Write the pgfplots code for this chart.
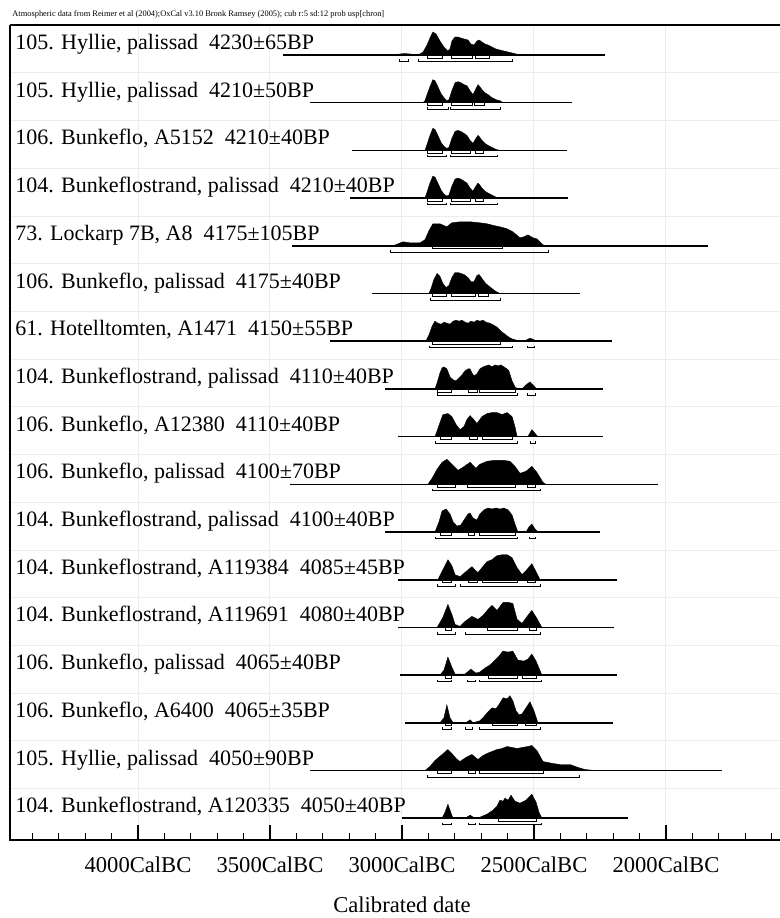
\documentclass[border=0pt]{standalone}
\usepackage{fontspec}
\setmainfont{Liberation Serif}
\usepackage{pgfplots}
\pgfplotsset{compat=1.18}
\usepackage{pgfplotstable}

\newcommand{\labfont}{\fontsize{11.0}{13}\selectfont}
\newcommand{\tickfont}{\fontsize{11.3}{13}\selectfont}
\newcommand{\bx}[3]{\addplot[black, line width=0.4pt, y filter/.expression={y+#1}] coordinates {(#2,0) (#2,-3) (#3,-3) (#3,0)};}
\newcommand{\rg}[3]{\addplot[black, line width=0.4pt, y filter/.expression={y+#1}] coordinates {(#2,-4.5) (#2,-6.5) (#3,-6.5) (#3,-4.5)};}
\newcommand{\bl}[3]{\addplot[black, line width=0.8pt, y filter/.expression={y+#1}] coordinates {(#2,0) (#3,0)};}
\newcommand{\dist}[2]{\addplot[fill=black, draw=black, line width=0.2pt, y filter/.expression={y+#1}] table[x=x,y=h] {#2};}
\newcommand{\lab}[2]{\node[anchor=base west, inner sep=0pt, font=\labfont] at (axis cs:4466,#1) {#2};}

% row 1: 4230+-65
\pgfplotstableread{
x h
3030 0
3008 1
2989 1.5
2970 1
2951 0.5
2932 1
2920 3
2905 10
2894 17
2883 23
2871 21
2856 14
2841 8
2826 4
2818 6
2811 14
2799 18
2788 18
2777 17
2765 16
2750 15
2739 11
2727 10
2716 14
2708 15
2697 13
2686 11
2674 10
2659 8
2644 6
2629 5
2614 4
2598 3
2583 2
2568 1
2545 0
}\rA
% row 2: 4210+-50
\pgfplotstableread{
x h
2920 0
2913 2
2905 8
2894 16
2883 23
2875 22
2864 16
2852 9
2841 5
2830 2
2822 3
2811 12
2799 20
2788 21
2777 20
2765 18
2754 17
2742 12
2731 8
2720 14
2712 18
2705 16
2697 13
2686 10
2674 8
2659 5
2644 3
2629 2
2617 0
}\rB
% rows 3,4: 4210+-40
\pgfplotstableread{
x h
2913 0
2905 6
2894 15
2883 22
2875 21
2864 15
2852 8
2841 4
2830 2
2822 3
2811 12
2799 19
2788 20
2777 19
2765 17
2754 15
2742 10
2731 7
2720 12
2712 15
2705 13
2697 10
2686 7
2674 5
2659 3
2644 1
2629 0
}\rC
% row 5: 4175+-105
\pgfplotstableread{
x h
3034 0
2996 4
2970 3
2932 3
2913 6
2898 15
2883 22
2856 22
2830 19
2811 23
2780 24
2742 24
2705 23
2678 22
2648 20
2629 19
2602 17
2580 14
2553 8
2538 9
2523 11
2504 8
2489 7
2466 1
2451 0
}\rE
% row 6: 4175+-40
\pgfplotstableread{
x h
2898 0
2890 5
2879 14
2867 20
2856 17
2845 10
2833 6
2822 8
2811 16
2799 21
2788 21
2777 20
2765 19
2750 16
2739 12
2727 12
2716 18
2708 19
2697 15
2686 11
2674 8
2659 5
2644 2
2629 0
}\rF
% row 7: 4150+-55
\pgfplotstableread{
x h
2910 0
2898 6
2886 15
2875 20
2864 18
2852 17
2841 19
2830 18
2818 17
2806 20
2795 21
2784 20
2773 21
2761 19
2750 18
2739 20
2727 19
2716 21
2705 20
2693 21
2682 19
2667 18
2652 16
2640 14
2625 10
2610 7
2595 4
2580 2
2565 1
2530 1
2515 3
2504 2
2490 0
}\rG
% row 8: 4110+-40
\pgfplotstableread{
x h
2875 0
2867 6
2856 16
2848 21
2841 22
2830 20
2818 12
2806 9
2795 8
2784 11
2773 14
2761 18
2750 20
2742 20
2735 16
2727 13
2716 15
2705 20
2693 22
2682 23
2671 24
2659 22
2648 24
2636 23
2625 24
2614 22
2602 20
2595 18
2583 8
2572 2
2561 0
2545 0
2530 4
2515 7
2500 3
2490 0
}\rH
% row 9: 4110+-40
\pgfplotstableread{
x h
2875 0
2856 14
2845 22
2826 23
2811 20
2795 12
2780 7
2765 10
2754 17
2742 21
2731 18
2716 13
2697 20
2678 23
2659 24
2640 24
2621 22
2602 24
2583 20
2572 10
2564 0
2523 0
2508 7
2492 2
2485 0
}\rI
% row 10: 4100+-70
\pgfplotstableread{
x h
2902 0
2886 6
2867 15
2848 22
2830 25
2811 20
2788 14
2769 17
2742 22
2720 16
2705 20
2678 23
2648 24
2617 24
2591 23
2572 18
2553 11
2530 13
2508 18
2489 12
2466 2
2455 0
}\rJ
% row 11: 4100+-40
\pgfplotstableread{
x h
2875 0
2860 10
2848 21
2833 23
2818 18
2806 10
2792 6
2777 7
2765 12
2750 18
2742 19
2731 14
2716 12
2705 18
2690 22
2674 24
2659 23
2644 24
2629 23
2614 24
2598 22
2583 17
2572 8
2561 0
2530 0
2519 5
2508 8
2496 3
2485 0
}\rK
% row 12: 4085+-45
\pgfplotstableread{
x h
2864 0
2845 10
2826 20
2811 14
2799 5
2780 3
2758 8
2735 13
2720 9
2712 7
2697 12
2678 18
2659 20
2640 24
2621 25
2602 25
2583 22
2564 12
2545 5
2527 10
2508 16
2492 8
2477 0
}\rL
% row 13: 4080+-40
\pgfplotstableread{
x h
2867 0
2845 10
2826 23
2811 13
2799 3
2780 1
2761 6
2735 11
2712 8
2693 12
2674 18
2659 22
2640 17
2617 25
2598 25
2580 24
2564 8
2545 4
2523 12
2508 17
2489 9
2470 0
}\rM
% row 14: 4065+-40
\pgfplotstableread{
x h
2856 0
2841 5
2826 18
2811 8
2799 1
2761 1
2739 6
2720 2
2705 3
2686 7
2667 10
2655 13
2636 18
2617 24
2598 23
2580 24
2561 15
2538 14
2523 16
2508 21
2492 14
2470 0
}\rN
% row 15: 4065+-35
\pgfplotstableread{
x h
2856 0
2841 5
2830 18
2818 5
2806 0
2758 0
2742 3
2731 0
2705 2
2690 6
2674 11
2659 15
2644 14
2633 18
2617 25
2602 24
2591 27
2580 22
2568 12
2557 8
2545 9
2530 15
2515 21
2500 12
2485 0
}\rO
% row 16: 4050+-90
\pgfplotstableread{
x h
2913 0
2894 4
2875 10
2848 16
2826 21
2811 17
2795 12
2780 9
2758 13
2735 16
2712 11
2693 15
2678 17
2659 19
2640 21
2621 22
2602 24
2583 23
2564 22
2545 23
2523 24
2508 25
2489 20
2466 9
2447 8
2428 7
2402 6
2364 6
2333 3
2307 1
2269 0
}\rP
% row 17: 4050+-40
\pgfplotstableread{
x h
2848 0
2837 6
2826 14
2814 5
2807 0
2761 0
2742 3
2723 0
2705 1
2678 4
2655 8
2640 12
2629 18
2617 17
2610 20
2598 18
2587 23
2572 17
2553 15
2530 18
2508 24
2492 16
2481 6
2470 0
}\rQ

\begin{document}
\begin{tikzpicture}
\useasboundingbox (0,0) rectangle (390pt,459pt);
\begin{axis}[
  at={(5pt,39pt)}, anchor=south west,
  scale only axis, width=385pt, height=407.5pt,
  xmin=1568, xmax=4485, x dir=reverse,
  ymin=0, ymax=815,
  clip=false,
  axis line style={draw=none},
  xtick={2000,2500,3000,3500,4000},
  xticklabels={2000CalBC,2500CalBC,3000CalBC,3500CalBC,4000CalBC},
  minor xtick={1600,1700,...,4400},
  xtick pos=bottom, tick align=inside,
  major tick length=7.5pt, minor tick length=3.5pt,
  every tick/.style={black, line width=0.6pt},
  xticklabel style={font=\tickfont, yshift=-5pt},
  ytick={51.5,99.2,146.9,194.6,242.3,290,337.7,385.4,433.1,480.8,528.5,576.2,623.9,671.6,719.3,767},
  yticklabels={}, ytick style={draw=none},
  xmajorgrids, ymajorgrids,
  grid style={black!7, line width=0.5pt},
  xlabel={Calibrated date},
  every axis x label/.style={at={(axis description cs:0.5,0)}, anchor=center, yshift=-32.5pt, xshift=3.5pt, font=\tickfont},
]
% row 1
\dist{785}{\rA}
\bl{785}{3451}{2231}
\bx{785}{2905}{2845}\bx{785}{2811}{2735}\bx{785}{2723}{2667}
\rg{785}{3008}{2977}\rg{785}{2936}{2580}
\lab{790.5}{105. Hyllie, palissad\ \ 4230±65BP}
% row 2
\dist{737.3}{\rB}
\bl{737.3}{3348}{2356}
\bx{737.3}{2902}{2848}\bx{737.3}{2814}{2735}\bx{737.3}{2727}{2689}
\rg{737.3}{2905}{2826}\rg{737.3}{2818}{2629}
\lab{742.8}{105. Hyllie, palissad\ \ 4210±50BP}
% row 3
\dist{689.6}{\rC}
\bl{689.6}{3189}{2375}
\bx{689.6}{2902}{2848}\bx{689.6}{2811}{2742}\bx{689.6}{2723}{2693}
\rg{689.6}{2905}{2830}\rg{689.6}{2818}{2640}
\lab{695.1}{106. Bunkeflo, A5152\ \ 4210±40BP}
% row 4
\dist{641.9}{\rC}
\bl{641.9}{3197}{2371}
\bx{641.9}{2902}{2848}\bx{641.9}{2811}{2742}\bx{641.9}{2723}{2693}
\rg{641.9}{2905}{2830}\rg{641.9}{2818}{2640}
\lab{647.4}{104. Bunkeflostrand, palissad\ \ 4210±40BP}
% row 5
\dist{594.2}{\rE}
\bl{594.2}{3417}{1841}
\bx{594.2}{2886}{2621}
\rg{594.2}{3045}{2447}
\lab{599.7}{73. Lockarp 7B, A8\ \ 4175±105BP}
% row 6
\dist{546.5}{\rF}
\bl{546.5}{3114}{2326}
\bx{546.5}{2883}{2830}\bx{546.5}{2811}{2720}\bx{546.5}{2712}{2674}
\rg{546.5}{2894}{2629}
\lab{552}{106. Bunkeflo, palissad\ \ 4175±40BP}
% row 7
\dist{498.8}{\rG}
\bl{498.8}{3273}{2205}
\bx{498.8}{2886}{2629}
\rg{498.8}{2898}{2583}\rg{498.8}{2523}{2500}
\lab{504.3}{61. Hotelltomten, A1471\ \ 4150±55BP}
% row 8
\dist{451.1}{\rH}
\bl{451.1}{3064}{2239}
\bx{451.1}{2864}{2811}\bx{451.1}{2750}{2716}\bx{451.1}{2705}{2572}
\rg{451.1}{2867}{2564}\rg{451.1}{2523}{2496}
\lab{456.6}{104. Bunkeflostrand, palissad\ \ 4110±40BP}
% row 9
\dist{403.4}{\rI}
\bl{403.4}{3015}{2239}
\bx{403.4}{2856}{2811}\bx{403.4}{2746}{2716}\bx{403.4}{2697}{2580}
\rg{403.4}{2875}{2564}\rg{403.4}{2515}{2496}
\lab{408.9}{106. Bunkeflo, A12380\ \ 4110±40BP}
% row 10
\dist{355.7}{\rJ}
\bl{355.7}{3424}{2030}
\bx{355.7}{2864}{2799}\bx{355.7}{2754}{2572}\bx{355.7}{2523}{2496}
\rg{355.7}{2883}{2477}
\lab{361.2}{106. Bunkeflo, palissad\ \ 4100±70BP}
% row 11
\dist{308}{\rK}
\bl{308}{3064}{2250}
\bx{308}{2856}{2811}\bx{308}{2750}{2727}\bx{308}{2705}{2572}
\rg{308}{2875}{2564}\rg{308}{2519}{2496}
\lab{313.5}{104. Bunkeflostrand, palissad\ \ 4100±40BP}
% row 12
\dist{260.3}{\rL}
\bl{260.3}{3015}{2186}
\bx{260.3}{2848}{2811}\bx{260.3}{2750}{2716}\bx{260.3}{2697}{2564}\bx{260.3}{2523}{2496}
\rg{260.3}{2867}{2799}\rg{260.3}{2780}{2477}
\lab{265.8}{104. Bunkeflostrand, A119384\ \ 4085±45BP}
% row 13
\dist{212.6}{\rM}
\bl{212.6}{3015}{2197}
\bx{212.6}{2837}{2811}\bx{212.6}{2678}{2561}\bx{212.6}{2519}{2489}
\rg{212.6}{2867}{2799}\rg{212.6}{2761}{2477}
\lab{218.1}{104. Bunkeflostrand, A119691\ \ 4080±40BP}
% row 14
\dist{164.9}{\rN}
\bl{164.9}{3008}{2186}
\bx{164.9}{2837}{2811}\bx{164.9}{2674}{2561}\bx{164.9}{2542}{2489}
\rg{164.9}{2864}{2811}\rg{164.9}{2754}{2723}\rg{164.9}{2705}{2470}
\lab{170.4}{106. Bunkeflo, palissad\ \ 4065±40BP}
% row 15
\dist{117.2}{\rO}
\bl{117.2}{2989}{2201}
\bx{117.2}{2837}{2811}\bx{117.2}{2659}{2561}\bx{117.2}{2534}{2489}
\rg{117.2}{2848}{2811}\rg{117.2}{2761}{2735}\rg{117.2}{2705}{2477}
\lab{122.7}{106. Bunkeflo, A6400\ \ 4065±35BP}
% row 16
\dist{69.5}{\rP}
\bl{69.5}{3348}{1788}
\bx{69.5}{2864}{2811}\bx{69.5}{2750}{2723}\bx{69.5}{2705}{2466}
\rg{69.5}{2905}{2326}
\lab{75}{105. Hyllie, palissad\ \ 4050±90BP}
% row 17
\dist{21.8}{\rQ}
\bl{21.8}{3000}{2144}
\bx{21.8}{2636}{2489}
\rg{21.8}{2848}{2811}\rg{21.8}{2750}{2723}\rg{21.8}{2705}{2470}
\lab{27.3}{104. Bunkeflostrand, A120335\ \ 4050±40BP}
% frame
\draw[line width=1.1pt] (rel axis cs:1,1) -- (rel axis cs:0,1);
\draw[line width=0.8pt] (rel axis cs:0,1) -- (rel axis cs:0,0) -- (rel axis cs:1,0);
\end{axis}
\node[anchor=west, inner sep=0pt, font=\fontsize{4.2}{5}\selectfont] at (6pt,452pt)
  {Atmospheric data from Reimer et al (2004);OxCal v3.10 Bronk Ramsey (2005); cub r:5 sd:12 prob usp[chron]};
\end{tikzpicture}
\end{document}
